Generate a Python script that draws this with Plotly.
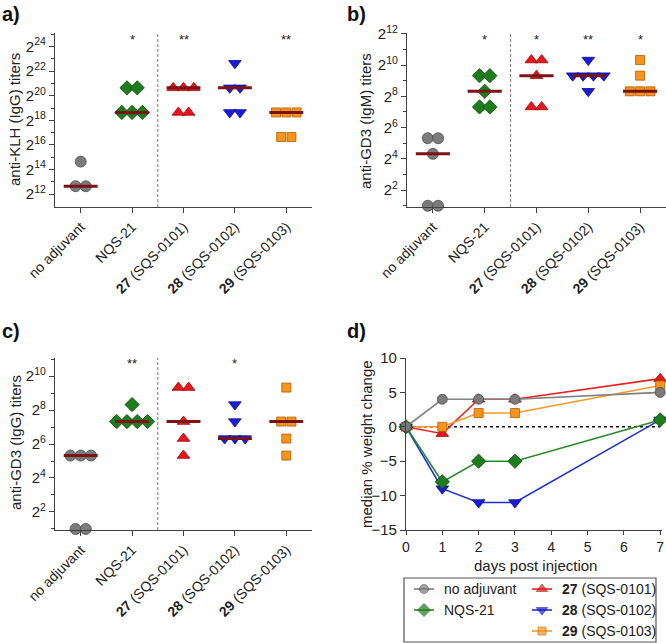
import numpy as np
import plotly.graph_objects as go

W, H = 666, 643
FONT = "Arial, Liberation Sans, sans-serif"

groups = ["no adjuvant", "NQS-21", "27 (SQS-0101)", "28 (SQS-0102)", "29 (SQS-0103)"]
tick_labels = ["no adjuvant", "NQS-21", "<b>27</b> (SQS-0101)",
               "<b>28</b> (SQS-0102)", "<b>29</b> (SQS-0103)"]

# log2 titers, one value per mouse
klh_igg = [
    [12.64, 12.64, 14.64],
    [20.64, 20.64, 18.64, 18.64, 18.64],
    [20.64, 20.64, 20.64, 18.64, 18.64],
    [22.64, 20.64, 20.64, 18.64, 18.64],
    [18.64, 18.64, 18.64, 16.64, 16.64],
]
gd3_igm = [
    [5.32, 5.32, 4.32, 1, 1],
    [9.32, 9.32, 8.32, 7.32, 7.32],
    [10.32, 10.32, 9.32, 7.32, 7.32],
    [10.32, 9.32, 9.32, 9.32, 9.32, 8.32],
    [10.32, 9.32, 8.32, 8.32, 8.32],
]
gd3_igg = [
    [5.32, 5.32, 5.32, 1, 1],
    [8.32, 7.32, 7.32, 7.32, 7.32],
    [9.32, 9.32, 7.32, 6.32, 5.32],
    [8.32, 7.32, 6.32, 6.32, 6.32],
    [9.32, 7.32, 7.32, 6.32, 5.32],
]
stars_a = ["", "*", "**", "", "**"]
stars_b = ["", "*", "*", "**", "*"]
stars_c = ["", "**", "", "*", ""]

days = [0, 1, 2, 3, 7]
weight_none = [0, 4, 4, 4, 5]
weight_nqs = [0, -8, -5, -5, 1]
weight_27 = [0, -1, 4, 4, 7]
weight_28 = [0, -9, -11, -11, 1]
weight_29 = [0, 0, 2, 2, 6]

fill = ["#7b7b7b", "#1d7d1d", "#e8151c", "#1c1cd8", "#f7941d"]
edge = ["#4d4d4d", "#0d4d0d", "#9a0a0a", "#0a0a8a", "#b25c00"]
symbols = ["circle", "diamond", "triangle-up", "triangle-down", "square"]
msize = [11, 11, 11, 11, 9]
MEDIAN = "#7a1216"
AXIS = "#404040"


def px_x(x):
    return x / W


def px_y(y):
    return 1 - y / H


def spread(vals, center, step=0.2):
    counts = {v: vals.count(v) for v in vals}
    seen = {}
    xs = []
    for v in vals:
        i = seen.get(v, 0)
        seen[v] = i + 1
        xs.append(center + (i - (counts[v] - 1) / 2) * step)
    return xs


fig = go.Figure()


def text_at(x, y, text, size, angle=0, xanchor="center", color="#222"):
    fig.add_annotation(x=px_x(x), y=px_y(y), xref="paper", yref="paper",
                       text=text, textangle=angle, showarrow=False,
                       xanchor=xanchor, yanchor="middle",
                       font=dict(size=size, color=color))


def dot_panel(data, n, stars, star_y, title, title_xy):
    xa, ya = ("x", "y") if n == 1 else (f"x{n}", f"y{n}")
    for i, vals in enumerate(data):
        fig.add_trace(go.Scatter(
            x=spread(vals, i), y=vals, mode="markers", xaxis=xa, yaxis=ya,
            cliponaxis=False,
            marker=dict(symbol=symbols[i], size=msize[i], color=fill[i],
                        line=dict(color=edge[i], width=0.8)),
            showlegend=False, hoverinfo="skip"))
    for i, vals in enumerate(data):
        med = float(np.median(vals))
        fig.add_trace(go.Scatter(
            x=[i - 0.33, i + 0.33], y=[med, med], mode="lines",
            xaxis=xa, yaxis=ya, line=dict(color=MEDIAN, width=3),
            showlegend=False, hoverinfo="skip"))
    fig.add_shape(type="line", xref=xa, yref=f"{ya} domain", x0=1.5, x1=1.5,
                  y0=0, y1=1, line=dict(color="#777777", width=1, dash="3px,2px"),
                  layer="below")
    for i, s in enumerate(stars):
        if s:
            fig.add_annotation(x=i, xref=xa, y=px_y(star_y), yref="paper",
                               text=s, showarrow=False, xanchor="center",
                               yanchor="middle",
                               font=dict(size=13, color="#222"))
    text_at(title_xy[0], title_xy[1], title, 15, angle=-90)


dot_panel(klh_igg, 1, stars_a, 40, "anti-KLH (IgG) titers", (15, 120))
dot_panel(gd3_igm, 2, stars_b, 40, "anti-GD3 (IgM) titers", (366, 121))
dot_panel(gd3_igg, 3, stars_c, 363, "anti-GD3 (IgG) titers", (15, 443))

# panel d
weights = [weight_none, weight_nqs, weight_27, weight_28, weight_29]
line_col = ["#808080", "#2a8a2a", "#ea2222", "#2030d0", "#f59a2a"]
dsize = [10, 11, 11, 11, 9]
for i in [3, 2, 4, 1, 0]:
    fig.add_trace(go.Scatter(
        x=days, y=weights[i], mode="lines+markers", xaxis="x4", yaxis="y4",
        cliponaxis=False, line=dict(color=line_col[i], width=1.6),
        marker=dict(symbol=symbols[i], size=dsize[i], color=fill[i],
                    line=dict(color=edge[i], width=0.8)),
        showlegend=False, hoverinfo="skip"))
fig.add_shape(type="line", xref="x4", yref="y4", x0=0, x1=7, y0=0, y1=0,
              line=dict(color="#111", width=1.5, dash="dot"), layer="below")

# legend box
LX0, LX1, LY0, LY1 = 404, 656, 578, 642
fig.add_shape(type="rect", xref="paper", yref="paper", x0=px_x(LX0), x1=px_x(LX1),
              y0=px_y(LY1), y1=px_y(LY0), line=dict(color="#555", width=1.2))
leg_names = ["no adjuvant", "NQS-21", "<b>27</b> (SQS-0101)",
             "<b>28</b> (SQS-0102)", "<b>29</b> (SQS-0103)"]
leg_pos = [(424, 589), (424, 610), (542, 589), (542, 610), (542, 631)]
for i, (lx, ly) in enumerate(leg_pos):
    fig.add_trace(go.Scatter(
        x=[lx - 10, lx, lx + 10], y=[ly, ly, ly], mode="lines+markers",
        xaxis="x5", yaxis="y5", line=dict(color=line_col[i], width=1.6),
        marker=dict(symbol=symbols[i], size=[0, dsize[i] - 1, 0], color=fill[i],
                    line=dict(color=edge[i], width=0.8)),
        showlegend=False, hoverinfo="skip"))
    text_at(lx + 18, ly, leg_names[i], 14, xanchor="left")

text_at(366, 444, "median % weight change", 15, angle=-90)
text_at(535, 565, "days post injection", 15)

for lab, (lx, ly) in zip(["a)", "b)", "c)", "d)"],
                         [(0, 14), (345, 14), (0, 331), (345, 331)]):
    text_at(lx, ly, f"<b>{lab}</b>", 20, xanchor="left", color="#111")


def cat_xaxis(x0, x1, anchor):
    return dict(domain=[px_x(x0), px_x(x1)], anchor=anchor, range=[-0.5, 4.5],
                tickmode="array", tickvals=list(range(5)), ticktext=tick_labels,
                tickangle=-45, ticks="outside", ticklen=5, tickcolor=AXIS,
                showline=True, linecolor=AXIS, linewidth=1.3, showgrid=False,
                zeroline=False, automargin=False,
                tickfont=dict(size=14, color="#222"))


def log_yaxis(y0, y1, anchor, rng, majors, minors):
    return dict(domain=[px_y(y1), px_y(y0)], anchor=anchor, range=rng,
                tickmode="array", tickvals=majors,
                ticktext=[f"2<sup>{m}</sup>" for m in majors],
                ticks="outside", ticklen=5, tickcolor=AXIS,
                minor=dict(tickmode="array", tickvals=minors, ticklen=3,
                           tickcolor=AXIS, ticks="outside"),
                showline=True, linecolor=AXIS, linewidth=1.3, showgrid=False,
                zeroline=False, automargin=False,
                tickfont=dict(size=15, color="#222"))


fig.update_layout(
    width=W, height=H, margin=dict(l=0, r=0, t=0, b=0, autoexpand=False),
    paper_bgcolor="white", plot_bgcolor="rgba(0,0,0,0)",
    font=dict(family=FONT, color="#222"), showlegend=False,
    xaxis=cat_xaxis(55, 312, "y"),
    yaxis=log_yaxis(33, 207, "x", [10.95, 25.1], list(range(12, 25, 2)),
                    list(range(13, 26, 2))),
    xaxis2=cat_xaxis(407, 666, "y2"),
    yaxis2=log_yaxis(33, 207, "x2", [0.92, 12.05], list(range(2, 13, 2)),
                     list(range(1, 12, 2))),
    xaxis3=cat_xaxis(55, 312, "y3"),
    yaxis3=log_yaxis(358, 530, "x3", [0.94, 11.06], list(range(2, 11, 2)),
                     list(range(1, 12, 2))),
    xaxis4=dict(domain=[px_x(406), px_x(662)], anchor="y4", range=[0, 7.05],
                tickmode="array", tickvals=list(range(8)), ticks="outside",
                ticklen=4, tickcolor=AXIS, showline=True, linecolor=AXIS,
                linewidth=1.3, showgrid=False, zeroline=False, automargin=False,
                tickfont=dict(size=14, color="#222")),
    yaxis4=dict(domain=[px_y(530), px_y(358)], anchor="x4", range=[-15, 10],
                tickmode="array", tickvals=list(range(-15, 11, 5)),
                ticks="outside", ticklen=5, tickcolor=AXIS, showline=True,
                linecolor=AXIS, linewidth=1.3, showgrid=False, zeroline=False,
                automargin=False, tickfont=dict(size=15, color="#222")),
    xaxis5=dict(domain=[px_x(LX0), px_x(LX1)], anchor="y5", range=[LX0, LX1],
                visible=False, automargin=False),
    yaxis5=dict(domain=[px_y(LY1), px_y(LY0)], anchor="x5", range=[LY1, LY0],
                visible=False, automargin=False),
)

# the page's default body margin would push the 666x643 figure off-screen
fig.write_html("out.html", config={"displayModeBar": False},
               post_script="document.body.style.margin = '0';")
